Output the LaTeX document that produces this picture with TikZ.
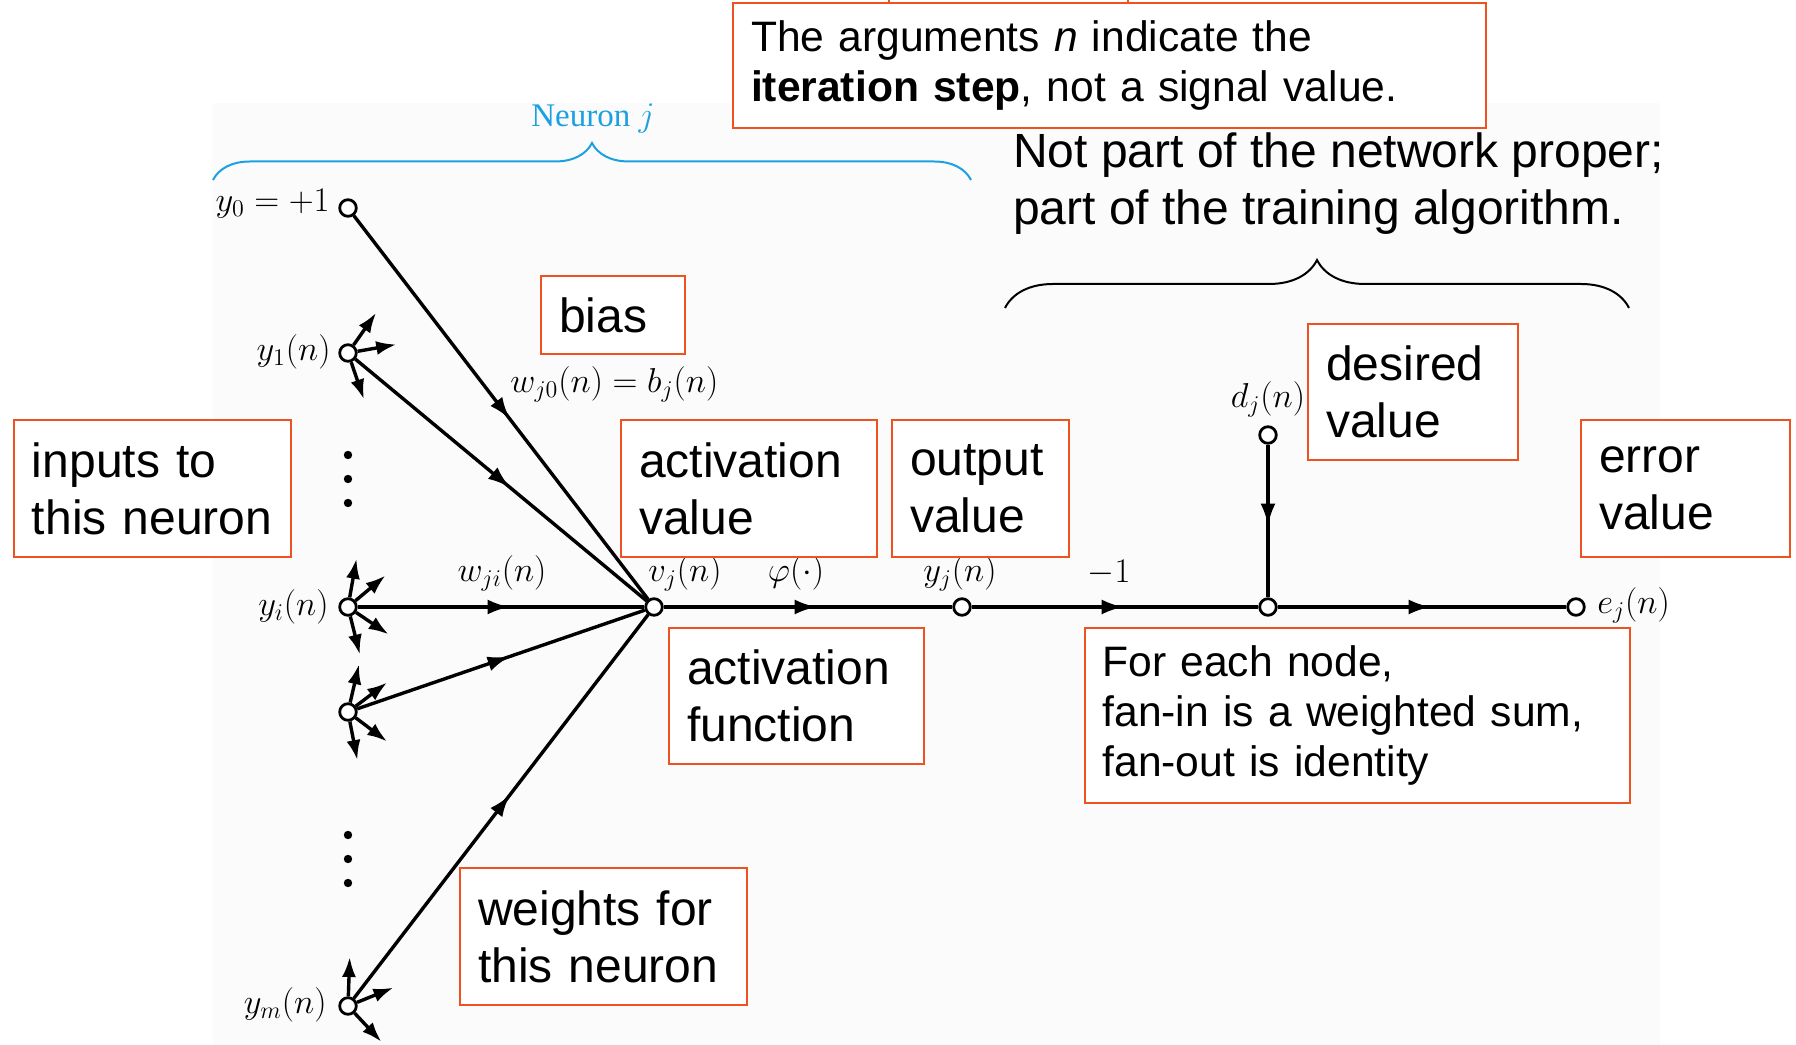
\documentclass[tikz,border=0pt]{standalone}
\usepackage{fontspec}
\setmainfont{Liberation Sans}
\newfontfamily\bookfont{Liberation Serif}
\usepackage{tikz}
\usetikzlibrary{arrows.meta,positioning,calc,decorations.markings,decorations.pathreplacing}

\definecolor{notecol}{RGB}{238,82,30}
\definecolor{neuroncol}{RGB}{27,161,226}

\tikzset{
    note/.style={draw=notecol, line width=1pt, fill=white, align=left, inner xsep=9pt, inner ysep=0pt, font=\fontsize{24}{28.5}\selectfont},
    smallnote/.style={note, font=\fontsize{21.3}{25}\selectfont},
    unit/.style={circle, draw, fill=white, line width=1.4pt, minimum size=8.3pt, inner sep=0pt},
    wire/.style={line width=1.7pt},
    midarrow/.style={wire, postaction={decorate}, decoration={markings, mark=at position 0.53 with {\arrow{Latex[length=11pt,width=7.5pt]}}}},
    stub/.style={wire, -{Latex[length=10pt,width=7pt]}},
    lbl/.style={inner sep=1pt, font=\fontsize{16.5}{19}\selectfont},
}

\begin{document}
\begin{tikzpicture}[x=0.5pt,y=0.5pt]
                \useasboundingbox (0,0) rectangle (1796,1045);
                \clip (0,0) rectangle (1796,1045);
                \fill [black!1.5] (213,0) rectangle (1660,942);

                % signal-flow graph
                \node [unit] (y0) at (348,837) {};
                \node [unit] (y1) at (348,692) {};
                \node [unit] (yi) at (348,438) {};
                \node [unit] (yk) at (348,333) {};
                \node [unit] (ym) at (348,39) {};
                \node [unit] (vj) at (654,438) {};
                \node [unit] (yj) at (962,438) {};
                \node [unit] (sum) at (1268,438) {};
                \node [unit] (ej) at (1576,438) {};
                \node [unit] (dj) at (1268,610) {};

                \foreach \y in {590,566,542,210,186,162}
                    \fill (348,\y) circle (2.1pt);

                \foreach \s in {y0,y1,yi,yk,ym}
                    \draw [midarrow] (\s) -- (vj);
                \draw [midarrow] (vj) -- (yj);
                \draw [midarrow] (yj) -- (sum);
                \draw [midarrow] (dj) -- (sum);
                \draw [midarrow] (sum) -- (ej);

                \foreach \n/\angs in {y1/{55,10,289}, yi/{80,40,326,284}, yk/{77,37,323,281}, ym/{88,22,313}}
                \foreach \a in \angs
                {
                    \coordinate (\n-\a) at ($(\n)+(\a:49)$);
                    \draw [stub] (\n.\a) -- (\n-\a);
                }

                \node [lbl, anchor=east] (y0lbl) at (332,841) {$y_0 = +1$};
                \node [lbl, anchor=east] (y1lbl) at (333,693) {$y_1(n)$};
                \node [lbl, anchor=east] (yilbl) at (331,438) {$y_i(n)$};
                \node [lbl, anchor=east] (ymlbl) at (329,40) {$y_m(n)$};
                \node [lbl, anchor=west] (wbias) at (508,661) {$w_{j0}(n) = b_j(n)$};
                \node [lbl] (wji) at (502,472) {$w_{ji}(n)$};
                \node [lbl] (vjlbl) at (685,472) {$v_j(n)$};
                \node [lbl] (philbl) at (796,472) {$\varphi(\cdot)$};
                \node [lbl] (yjlbl) at (960,472) {$y_j(n)$};
                \node [lbl] (gain) at (1109,472) {$-1$};
                \node [lbl] (djlbl) at (1268,646) {$d_j(n)$};
                \node [lbl, anchor=west] (ejlbl) at (1595,440) {$e_j(n)$};

                % braces
                \draw [neuroncol, line width=1pt, decorate, decoration={brace, amplitude=18.5pt}] (213,865) -- (971,865);
                \node [neuroncol, font=\bookfont\fontsize{16.5}{19}\selectfont] (neuron) at (593,926) {Neuron $j$};
                \draw [line width=1pt, decorate, decoration={brace, amplitude=24pt}] (1005,737) -- (1629,737);
                \node [anchor=west, align=left, font=\fontsize{24}{28.5}\selectfont] (trainnote) at (1006,861) {Not part of the network proper;\\part of the training algorithm.};

                % callouts
                \draw [notecol, line width=1pt] (889,1042) rectangle (1128,1100);
                \node [smallnote, text width=358.5pt, minimum height=62.5pt] (argnote) at (1109.5,979.5) {The arguments \textit{n} indicate the\\\textbf{iteration step}, not a signal value.};
                \node [note, text width=54pt, minimum height=39pt] (bias) at (613,730) {bias};
                \node [note, text width=120.5pt, minimum height=68.5pt] (inputs) at (152.5,556.5) {inputs to\\this neuron};
                \node [note, text width=110pt, minimum height=68.5pt] (actval) at (749,556.5) {activation\\value};
                \node [note, text width=70.5pt, minimum height=68.5pt] (outval) at (980.5,556.5) {output\\value};
                \node [note, text width=87pt, minimum height=68pt] (desired) at (1413,653) {desired\\value};
                \node [note, text width=86.5pt, minimum height=68.5pt] (errval) at (1685.5,556.5) {error\\value};
                \node [note, text width=109.5pt, minimum height=68pt] (actfun) at (796.5,349) {activation\\function};
                \node [smallnote, text width=254.5pt, minimum height=87.5pt] (fanbox) at (1357,329.5) {For each node,\\fan-in is a weighted sum,\\fan-out is identity};
                \node [note, text width=125.5pt, minimum height=68.5pt] (weights) at (603.5,108.5) {weights for\\this neuron};
                
                %\node at (1300,1000) {};
\end{tikzpicture}
\end{document}
